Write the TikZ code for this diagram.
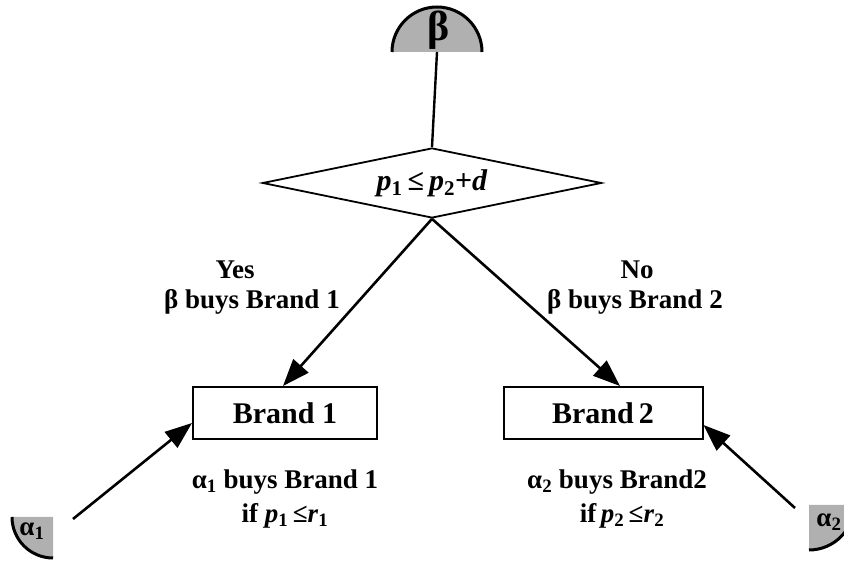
\documentclass[tikz,border=0pt]{standalone}
\usepackage{fontspec}
\setmainfont{Liberation Serif}
\usetikzlibrary{shapes.geometric,arrows.meta,positioning}
\newcommand{\sbs}[1]{\textsubscript{#1}}
\tikzset{
  lbl/.style={font=\bfseries\fontsize{27}{32}\selectfont, inner sep=0},
  brandbox/.style={draw, line width=2pt, minimum height=52pt, inner sep=0,
    font=\bfseries\fontsize{30}{32}\selectfont},
  arr/.style={line width=2.6pt, -{Triangle[length=27pt,width=20pt]}},
  shade/.style={fill=gray!62},
  srclbl/.style={font=\bfseries\fontsize{27}{27}\selectfont, inner sep=0},
}
\begin{document}
\begin{tikzpicture}[x=1pt,y=1pt]
\useasboundingbox (0,0) rectangle (844,562);
\clip (0,0) rectangle (844,562);

% beta source
\fill[shade] (392,510) arc[start angle=180,end angle=0,radius=45pt] -- cycle;
\draw[line width=3pt] (392,510) arc[start angle=180,end angle=0,radius=45pt];
\node (beta) at (439,532) [font=\bfseries\fontsize{42}{42}\selectfont, inner sep=0] {β};
\coordinate (bfoot) at (437,510);

% decision
\node (dec) at (432,379) [diamond, draw, line width=1.8pt, aspect=4.8,
  minimum width=339pt, minimum height=70pt, inner sep=0,
  font=\bfseries\fontsize{30}{32}\selectfont] {\textit{p}\sbs{1}\,≤\,\textit{p}\sbs{2}+\textit{d}};
\draw[line width=2.4pt] (bfoot) -- (dec.north);

% brands
\node (b1) at (285,149) [brandbox, minimum width=184pt] {Brand 1};
\node (b2) at (603,149) [brandbox, minimum width=199pt] {Brand\,2};
\draw[arr] (dec.south) -- ([xshift=-2pt]b1.north);
\draw[arr] (dec.south) -- ([xshift=17pt]b2.north);

% alpha sources
\fill[shade] (53,45) -- (12,45) arc[start angle=180,end angle=270,radius=41pt] -- cycle;
\draw[line width=3pt] (12,45) arc[start angle=180,end angle=270,radius=41pt];
\node (a1) at (32,31) [srclbl] {α\sbs{1}};
\fill[shade] (809,57) -- (809,12) arc[start angle=270,end angle=360,radius=45pt] -- cycle;
\draw[line width=3pt] (809,12) arc[start angle=270,end angle=360,radius=45pt];
\node (a2) at (829,40) [srclbl] {α\sbs{2}};
\coordinate (a1tail) at (73,43);
\coordinate (a2tail) at (795,54);
\draw[arr] (a1tail) -- ([yshift=-10pt]b1.west);
\draw[arr] (a2tail) -- ([yshift=-12pt]b2.east);

% labels
\node (yes) at (235,292) [lbl] {Yes};
\node (buys1) at (252,260) [lbl] {β buys Brand 1};
\node (no) at (637,292) [lbl] {No};
\node (buys2) at (635,260) [lbl] {β buys Brand 2};
\node (cond1a) at (285,80) [lbl] {α\sbs{1} buys Brand 1};
\node (cond1b) at (285,46) [lbl] {if \textit{p}\sbs{1}\,≤\textit{r}\sbs{1}};
\node (cond2a) at (617,80) [lbl] {α\sbs{2} buys Brand2};
\node (cond2b) at (622,46) [lbl] {if\,\textit{p}\sbs{2}\,≤\textit{r}\sbs{2}};
\end{tikzpicture}
\end{document}
